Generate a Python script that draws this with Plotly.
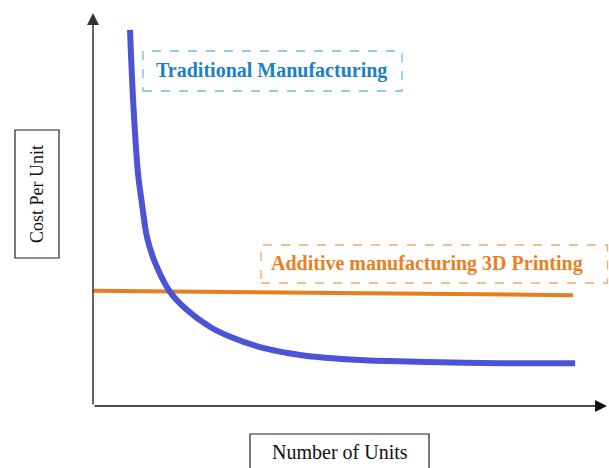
import plotly.graph_objects as go

# Data (units and cost on a 0-100 relative scale)
trad_units = [7.2, 7.8, 8.75, 9.5, 10.5, 12.1, 15.0, 18.3, 22.8, 26.7, 32.5, 40.3, 51.9, 65.0, 79.2, 93.8]
trad_cost = [95.7, 77.9, 59.3, 51.7, 43.0, 36.4, 29.0, 24.4, 20.1, 17.6, 15.0, 13.0, 11.7, 11.2, 10.9, 10.9]
add_units = [0.0, 46.7, 93.4]
add_cost = [29.3, 28.8, 28.2]

W, H = 609, 468
L, R, T, B = 93, 2, 13, 62
PW, PH = W - L - R, H - T - B


def px(x):
    return (x - L) / PW


def py(y):
    return (H - B - y) / PH


fig = go.Figure()
fig.add_trace(go.Scatter(x=add_units, y=add_cost, mode="lines",
                         line=dict(color="#E87D1E", width=4), hoverinfo="skip"))
fig.add_trace(go.Scatter(x=trad_units, y=trad_cost, mode="lines",
                         line=dict(color="#4B54D6", width=6, shape="spline", smoothing=0.8),
                         hoverinfo="skip"))

shapes = [
    dict(type="rect", xref="paper", yref="paper", x0=px(143), x1=px(402), y0=py(91), y1=py(51),
         line=dict(color="#6CC0D8", width=1.3, dash="dash")),
    dict(type="rect", xref="paper", yref="paper", x0=px(261), x1=px(607.5), y0=py(283), y1=py(245),
         line=dict(color="#F5A865", width=1.3, dash="dash")),
    dict(type="rect", xref="paper", yref="paper", x0=px(15), x1=px(59), y0=py(258), y1=py(130),
         line=dict(color="#222222", width=1.2)),
    dict(type="rect", xref="paper", yref="paper", x0=px(250), x1=px(429), y0=py(475), y1=py(434),
         line=dict(color="#222222", width=1.2)),
]

serif = "Liberation Serif, Times New Roman, serif"


def label(x, y, text, size, color, angle=0):
    return dict(xref="paper", yref="paper", x=px(x), y=py(y), text=text, textangle=angle,
                xanchor="center", yanchor="middle", showarrow=False,
                font=dict(family=serif, size=size, color=color))


annotations = [
    label(271, 70, "<b>Traditional Manufacturing</b>", 20, "#1A80C8"),
    label(427, 263, "<b>Additive manufacturing 3D Printing</b>", 20, "#E8801E"),
    label(37, 194, "Cost Per Unit", 18, "#111111", -90),
    label(340, 452, "Number of Units", 20, "#111111"),
    # axes with arrows
    dict(xref="paper", yref="paper", x=0, y=1, ax=0, ay=PH, text="", showarrow=True,
         arrowhead=2, arrowsize=1.6, arrowwidth=1.5, arrowcolor="#333333", standoff=0),
    dict(xref="paper", yref="paper", x=1, y=0, ax=-PW, ay=0, text="", showarrow=True,
         arrowhead=2, arrowsize=1.6, arrowwidth=1.5, arrowcolor="#111111", standoff=0),
]

fig.update_layout(
    width=W, height=H,
    margin=dict(l=L, r=R, t=T, b=B),
    paper_bgcolor="white", plot_bgcolor="white",
    showlegend=False,
    xaxis=dict(range=[0, 100], visible=False, fixedrange=True),
    yaxis=dict(range=[0, 100], visible=False, fixedrange=True),
    shapes=shapes, annotations=annotations,
)

fig.write_html("out.html")
